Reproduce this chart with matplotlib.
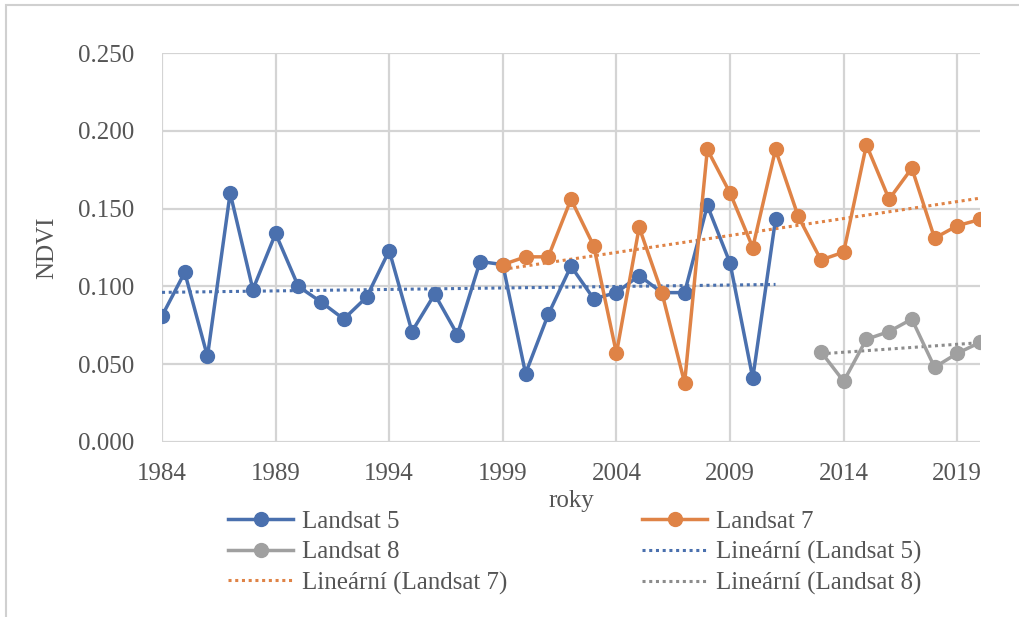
import matplotlib
matplotlib.use("Agg")
import matplotlib.pyplot as plt
import matplotlib.patches as mpatches
from matplotlib.ticker import FormatStrFormatter
import numpy as np

plt.rcParams["font.family"] = ["Liberation Serif", "DejaVu Serif"]

# data
years_l5 = np.arange(1984, 2012)
ndvi_l5 = [0.081, 0.109, 0.055, 0.160, 0.098, 0.134, 0.100, 0.090, 0.079, 0.093,
           0.123, 0.071, 0.095, 0.069, 0.116, 0.114, 0.044, 0.082, 0.113, 0.092,
           0.096, 0.107, 0.096, 0.096, 0.152, 0.115, 0.041, 0.143]
years_l7 = np.arange(1999, 2021)
ndvi_l7 = [0.114, 0.119, 0.119, 0.156, 0.126, 0.057, 0.138, 0.096, 0.038, 0.188,
           0.160, 0.125, 0.188, 0.145, 0.117, 0.122, 0.191, 0.156, 0.176, 0.131,
           0.139, 0.143]
years_l8 = np.arange(2013, 2021)
ndvi_l8 = [0.058, 0.039, 0.066, 0.071, 0.079, 0.048, 0.057, 0.064]

c_blue = "#4A70AE"
c_orange = "#DF8346"
c_gray = "#A0A0A0"
c_text = "#555555"
fs = 18

fig = plt.figure(figsize=(10.19, 6.17), dpi=100)
ax = fig.add_axes([162/1019, 1-442/617, (980-162)/1019, (442-53)/617])

# outer frame (Excel chart area border)
fig.patches.append(mpatches.Rectangle((6/1019, -0.1), 1.2, 1-5/617+0.1, transform=fig.transFigure,
                                      fill=False, edgecolor="#d0d0d0", linewidth=1.5))

lw = 2.5
ms = 10
ax.plot(years_l5, ndvi_l5, color=c_blue, lw=lw, marker="o", ms=ms, label="Landsat 5", zorder=3)
ax.plot(years_l7, ndvi_l7, color=c_orange, lw=lw, marker="o", ms=ms, label="Landsat 7", zorder=4)
ax.plot(years_l8, ndvi_l8, color=c_gray, lw=lw, marker="o", ms=ms, label="Landsat 8", zorder=3)

# linear trendlines (Excel "Lineární")
for yrs, vals, col, name in [(years_l5, ndvi_l5, c_blue, "Landsat 5"),
                              (years_l7, ndvi_l7, c_orange, "Landsat 7"),
                              (years_l8, ndvi_l8, "#8c8c8c", "Landsat 8")]:
    k, q = np.polyfit(yrs, vals, 1)
    ax.plot(yrs, k*np.array(yrs)+q, color=col, lw=2.2, ls=(0, (1, 1.2)),
            label=f"Lineární ({name})", zorder=2)

ax.set_xlim(1984, 2020)
ax.set_ylim(0, 0.25)
ax.set_xticks(np.arange(1984, 2021, 5))
ax.set_yticks(np.arange(0, 0.2501, 0.05))
ax.yaxis.set_major_formatter(FormatStrFormatter("%.3f"))
ax.grid(True, color="#d4d4d4", lw=1.6)
ax.set_axisbelow(True)
for s in ax.spines.values():
    s.set_visible(False)
ax.tick_params(length=0, labelsize=fs, colors=c_text)
ax.tick_params(axis="y", pad=20)
ax.tick_params(axis="x", pad=15)

ax.set_xlabel("roky", fontsize=fs, color=c_text, labelpad=4)
ax.set_ylabel("NDVI", fontsize=fs, color=c_text, labelpad=14)

# Excel fills the legend row by row; matplotlib goes column by column
h, l = ax.get_legend_handles_labels()
order = [0, 2, 4, 1, 3, 5]
leg = fig.legend([h[i] for i in order], [l[i] for i in order], ncol=2,
                 loc="upper left", bbox_to_anchor=(228/1019, 1-510/617),
                 frameon=False, fontsize=fs, handlelength=2.6, handletextpad=0.35,
                 columnspacing=5.4, labelspacing=0.33, borderaxespad=0, borderpad=0)
for t in leg.get_texts():
    t.set_color(c_text)

plt.savefig("out.png", dpi=100)
plt.close()
